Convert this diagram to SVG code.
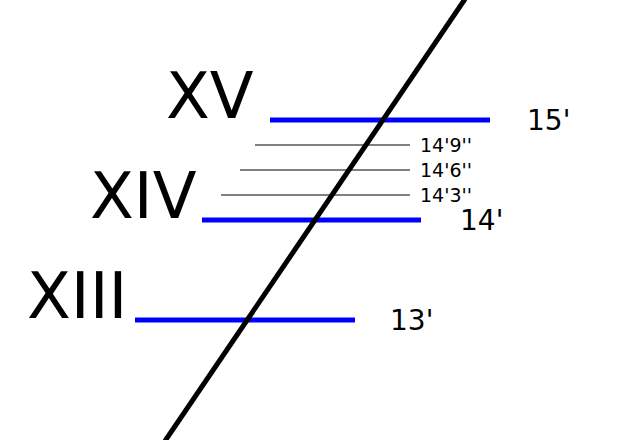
<svg xmlns="http://www.w3.org/2000/svg" width="620" height="440" viewBox="0 0 620 440">
<style>
.big{font-family:"DejaVu Sans",sans-serif;font-size:64px;fill:#000}
.mid{font-family:"DejaVu Sans",sans-serif;font-size:28px;fill:#000}
.sm{font-family:"DejaVu Sans",sans-serif;font-size:19px;fill:#000}
.blue{stroke:#0000ff;stroke-width:5;fill:none}
.gray{stroke:#808080;stroke-width:2;fill:none}
</style>
<rect width="620" height="440" fill="#fff"/>
<g id="levels">
<line class="blue" x1="270" y1="120" x2="490" y2="120"/>
<line class="blue" x1="202" y1="220" x2="421" y2="220"/>
<line class="blue" x1="135" y1="320" x2="355" y2="320"/>
<line class="gray" x1="255" y1="145" x2="410" y2="145"/>
<line class="gray" x1="240" y1="170" x2="410" y2="170"/>
<line class="gray" x1="221" y1="195" x2="410" y2="195"/>
</g>
<g id="diagonal">
<line x1="165" y1="441" x2="465" y2="-1" stroke="#000" stroke-width="5"/>
</g>
<g id="labels">
<text class="big" x="166" y="118">XV</text>
<text class="big" x="90" y="218">XIV</text>
<text class="big" x="27" y="318">XIII</text>
<text class="mid" x="527" y="130">15'</text>
<text class="mid" x="460" y="230">14'</text>
<text class="mid" x="390" y="330">13'</text>
<text class="sm" x="420" y="152">14'9''</text>
<text class="sm" x="420" y="177">14'6''</text>
<text class="sm" x="420" y="202">14'3''</text>
</g>
</svg>
